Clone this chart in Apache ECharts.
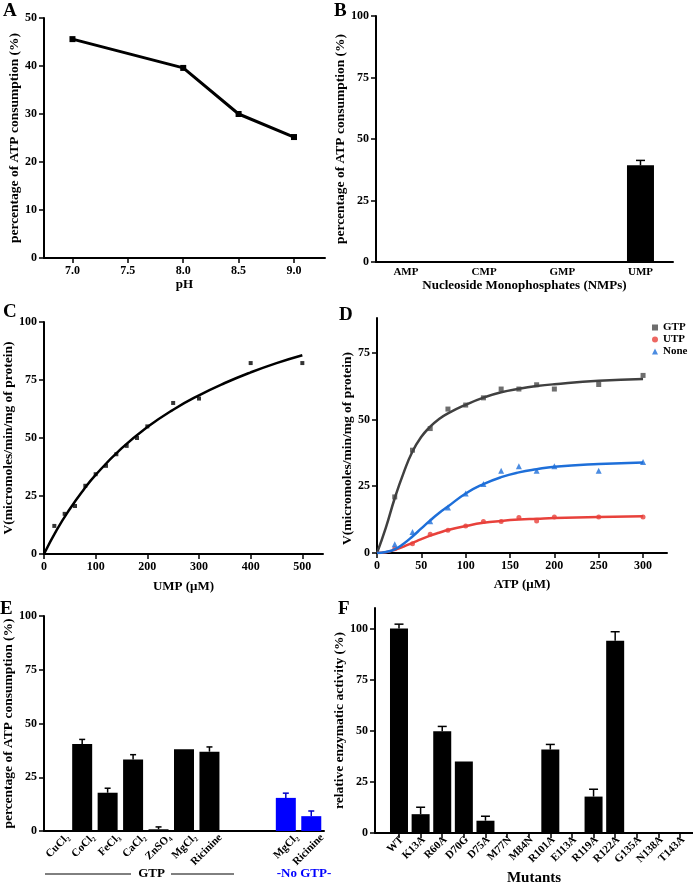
<!DOCTYPE html>
<html>
<head>
<meta charset="utf-8">
<script src="https://cdn.jsdelivr.net/npm/echarts@6/dist/echarts.min.js"></script>
<style>
  html, body { margin: 0; padding: 0; background: #fff; }
  #chart { width: 693px; height: 885px; }
</style>
</head>
<body>
<div id="chart"></div>
<script>
// A: pH
var phX = [7.0, 8.0, 8.5, 9.0];
var phY = [45.6, 39.6, 30.0, 25.2];
var phTicks = [7.0, 7.5, 8.0, 8.5, 9.0];

// B: NMPs
var nmpNames = ['AMP', 'CMP', 'GMP', 'UMP'];
var nmpVal = [0, 0, 0, 39.3];
var nmpErr = [0, 0, 0, 2.0];

// C: UMP kinetics
var umpX = [20, 40, 60, 80, 100, 120, 140, 160, 180, 200, 250, 300, 400, 500];
var umpV = [12.1, 17.3, 20.7, 29.4, 34.4, 38.0, 43.0, 46.6, 50.0, 55.0, 65.1, 67.0, 82.3, 82.3];
var umpFitX = [0, 25, 50, 75, 100, 150, 200, 250, 300, 350, 400, 450, 500];
var umpFitV = [0, 10.5, 19.4, 27.2, 34.1, 45.5, 54.7, 62.2, 68.4, 73.7, 78.3, 82.3, 85.7];
var umpTicks = [0, 100, 200, 300, 400, 500];

// D: ATP kinetics
var atpX = [20, 40, 60, 80, 100, 120, 140, 160, 180, 200, 250, 300];
var gtpV = [21.0, 38.5, 46.6, 53.9, 55.4, 58.1, 61.4, 61.4, 63.0, 61.4, 63.1, 66.5];
var utpV = [1.6, 3.5, 7.0, 8.5, 10.1, 11.8, 11.8, 13.3, 12.0, 13.5, 13.5, 13.5];
var noneV = [3.3, 7.9, 11.9, 17.0, 22.3, 25.8, 30.8, 32.5, 30.8, 32.5, 30.8, 34.1];
var atpFitX = [0, 10, 20, 30, 40, 50, 60, 70, 80, 100, 120, 140, 160, 180, 200, 250, 300];
var gtpFit = [0, 9.5, 20.5, 30.0, 38.0, 43.5, 47.3, 50.2, 52.3, 55.5, 58.2, 60.2, 61.5, 62.5, 63.2, 64.5, 65.2];
var utpFit = [0, 0.3, 1.2, 2.4, 3.8, 5.2, 6.5, 7.6, 8.6, 10.1, 11.3, 12.0, 12.5, 12.8, 13.1, 13.5, 13.75];
var noneFit = [0, 0.4, 1.4, 3.5, 6.2, 9.2, 12.2, 15.0, 17.4, 22.3, 25.8, 28.4, 30.2, 31.4, 32.3, 33.3, 33.9];
var atpTicks = [0, 50, 100, 150, 200, 250, 300];
var vTicks = [0, 25, 50, 75];

// E: metal ions
var metalNames = ['CuCl₂', 'CoCl₂', 'FeCl₃', 'CaCl₂', 'ZnSO₄', 'MgCl₂', 'Ricinine', '', '', 'MgCl₂', 'Ricinine'];
var metalVal = [0, 40.5, 17.8, 33.3, 0.8, 38.0, 36.9, '-', '-', 15.4, 6.9];
var metalErr = [0, 2.1, 2.1, 2.2, 1.1, 0, 2.2, 0, 0, 2.2, 2.4];

// F: mutants
var mutNames = ['WT', 'K13A', 'R60A', 'D70G', 'D75A', 'M77N', 'M84N', 'R101A', 'E113A', 'R119A', 'R122A', 'G135A', 'N138A', 'T143A'];
var mutVal = [100, 9.2, 49.7, 35.0, 6.0, 0, 0, 40.8, 0, 17.8, 94.0, 0, 0, 0];
var mutErr = [2.1, 3.4, 2.4, 0, 2.2, 0, 0, 2.5, 0, 3.6, 4.4, 0, 0, 0];
var pctTicks = [0, 25, 50, 75, 100];

var FONT = "'Liberation Serif', 'Times New Roman', serif";

function pairs(xs, ys) {
    return xs.map(function (x, i) { return [x, ys[i]]; });
}
function idxPairs(ys) {
    return ys.map(function (y, i) { return [i, y]; });
}
function indices(arr) {
    return arr.map(function (n, i) { return i; });
}
function errData(vals, errs) {
    var out = [];
    vals.forEach(function (v, i) {
        if (errs[i] > 0) out.push([i, v, errs[i]]);
    });
    return out;
}

function axis(idx, opt) {
    var a = {
        gridIndex: idx,
        axisLine: { onZero: false, lineStyle: { color: '#000', width: 2 } },
        axisTick: { length: 5, lineStyle: { color: '#000', width: 1.5 } },
        axisLabel: { color: '#000', fontFamily: FONT, fontWeight: 'bold', fontSize: 12, margin: 7 },
        nameLocation: 'middle',
        nameTextStyle: { color: '#000', fontFamily: FONT, fontWeight: 'bold', fontSize: 13 },
        splitLine: { show: false }
    };
    for (var k in opt) {
        if (typeof opt[k] === 'object' && !Array.isArray(opt[k]) && a[k]) {
            for (var j in opt[k]) a[k][j] = opt[k][j];
        } else {
            a[k] = opt[k];
        }
    }
    return a;
}

// label-only axis, slightly shifted to the right like the original layout
function labelAxis(idx, min, max, names) {
    return axis(idx, {
        type: 'value', position: 'bottom', min: min, max: max,
        axisLine: { show: false },
        axisTick: { show: false },
        axisLabel: { customValues: indices(names), rotate: 45, fontSize: 11, margin: 5,
            formatter: function (v) { return names[Math.round(v)]; } }
    });
}

function errorBars(xi, yi, color, capW, data) {
    return {
        type: 'custom',
        xAxisIndex: xi,
        yAxisIndex: yi,
        data: data,
        z: 3,
        encode: { x: 0, y: 1 },
        renderItem: function (params, api) {
            var x = api.value(0), v = api.value(1), e = api.value(2);
            var p0 = api.coord([x, v]);
            var p1 = api.coord([x, v + e]);
            var st = { stroke: color, lineWidth: 1.5 };
            return {
                type: 'group',
                children: [
                    { type: 'line', shape: { x1: p0[0], y1: p0[1], x2: p1[0], y2: p1[1] }, style: st },
                    { type: 'line', shape: { x1: p1[0] - capW / 2, y1: p1[1], x2: p1[0] + capW / 2, y2: p1[1] }, style: st }
                ]
            };
        }
    };
}

var yName = 'percentage of ATP consumption (%)';
var vName = 'V(micromoles/min/mg of protein)';

var chart = echarts.init(document.getElementById('chart'), null, { renderer: 'canvas' });

var option = {
    backgroundColor: '#fff',
    animation: false,
    grid: [
        { left: 44, top: 18, width: 281, height: 240, outerBoundsMode: 'none' },
        { left: 376, top: 16, width: 297, height: 246, outerBoundsMode: 'none' },
        { left: 44, top: 322, width: 279, height: 232, outerBoundsMode: 'none' },
        { left: 377, top: 318, width: 290, height: 235, outerBoundsMode: 'none' },
        { left: 44, top: 616, width: 280, height: 215, outerBoundsMode: 'none' },
        { left: 375, top: 608, width: 318, height: 225, outerBoundsMode: 'none' }
    ],
    xAxis: [
        axis(0, {
            type: 'value', min: 6.743, max: 9.28, name: 'pH', nameGap: 18,
            axisTick: { customValues: phTicks },
            axisLabel: { customValues: phTicks, formatter: function (v) { return v.toFixed(1); } }
        }),
        axis(1, {
            type: 'value', min: -0.383, max: 3.416,
            name: 'Nucleoside Monophosphates (NMPs)', nameGap: 16,
            axisTick: { show: false },
            axisLabel: { customValues: [0, 1, 2, 3], fontSize: 11, margin: 5,
                formatter: function (v) { return nmpNames[Math.round(v)]; } }
        }),
        axis(2, {
            type: 'value', min: 0, max: 540, name: 'UMP (μM)', nameGap: 26,
            axisTick: { customValues: umpTicks },
            axisLabel: { customValues: umpTicks }
        }),
        axis(3, {
            type: 'value', min: 0, max: 327, name: 'ATP (μM)', nameGap: 25,
            axisTick: { customValues: atpTicks },
            axisLabel: { customValues: atpTicks }
        }),
        axis(4, {
            type: 'category', data: metalNames, position: 'bottom',
            axisTick: { alignWithLabel: true, interval: 0 },
            axisLabel: { show: false }
        }),
        axis(5, {
            type: 'value', min: -1.11, max: 13.6, name: 'Mutants', nameGap: 38, position: 'bottom',
            nameTextStyle: { fontSize: 15 },
            axisTick: { customValues: indices(mutNames) },
            axisLabel: { show: false }
        }),
        labelAxis(4, -0.5 - 11 / 25.45, 10.5 - 11 / 25.45, metalNames),
        labelAxis(5, -1.11 - 3 / 21.6, 13.6 - 3 / 21.6, mutNames)
    ],
    yAxis: [
        axis(0, { type: 'value', min: 0, max: 50, interval: 10, name: yName, nameGap: 20,
            nameTextStyle: { fontSize: 13.5 } }),
        axis(1, { type: 'value', min: 0, max: 100, interval: 25, name: yName, nameGap: 21,
            nameTextStyle: { fontSize: 13.5 } }),
        axis(2, { type: 'value', min: 0, max: 100, interval: 25, name: vName, nameGap: 24,
            nameTextStyle: { fontSize: 13.5 } }),
        axis(3, { type: 'value', min: 0, max: 88, name: vName, nameGap: 17,
            nameTextStyle: { fontSize: 13.5, padding: [0, 26, 0, 0] },
            axisTick: { customValues: vTicks },
            axisLabel: { customValues: vTicks } }),
        axis(4, { type: 'value', min: 0, max: 100, interval: 25, name: yName, nameGap: 22,
            nameTextStyle: { fontSize: 13.5 } }),
        axis(5, { type: 'value', min: 0, max: 110, name: 'relative enzymatic activity (%)', nameGap: 21,
            nameTextStyle: { fontSize: 13.5 },
            axisTick: { customValues: pctTicks },
            axisLabel: { customValues: pctTicks } })
    ],
    legend: {
        data: ['GTP', 'UTP', 'None'],
        orient: 'vertical',
        left: 647,
        top: 317,
        itemWidth: 6,
        itemHeight: 6,
        itemGap: 1,
        textStyle: { color: '#000', fontFamily: FONT, fontWeight: 'bold', fontSize: 11 }
    },
    graphic: [
        { type: 'text', left: 3, top: 2, style: { text: 'A', font: 'bold 19px ' + FONT, fill: '#000' } },
        { type: 'text', left: 334, top: 2, style: { text: 'B', font: 'bold 19px ' + FONT, fill: '#000' } },
        { type: 'text', left: 3, top: 303, style: { text: 'C', font: 'bold 19px ' + FONT, fill: '#000' } },
        { type: 'text', left: 339, top: 306, style: { text: 'D', font: 'bold 19px ' + FONT, fill: '#000' } },
        { type: 'text', left: 0, top: 600, style: { text: 'E', font: 'bold 19px ' + FONT, fill: '#000' } },
        { type: 'text', left: 338, top: 600, style: { text: 'F', font: 'bold 19px ' + FONT, fill: '#000' } },
        { type: 'line', shape: { x1: 45, y1: 874, x2: 131, y2: 874 }, style: { stroke: '#000', lineWidth: 1 } },
        { type: 'line', shape: { x1: 171, y1: 874, x2: 234, y2: 874 }, style: { stroke: '#000', lineWidth: 1 } },
        { type: 'text', x: 151.5, y: 874, style: { text: 'GTP', font: 'bold 13px ' + FONT, fill: '#000', align: 'center', verticalAlign: 'middle' } },
        { type: 'text', x: 304, y: 874, style: { text: '-No GTP-', font: 'bold 13px ' + FONT, fill: '#0000ff', align: 'center', verticalAlign: 'middle' } }
    ],
    series: [
        // A
        {
            type: 'line', xAxisIndex: 0, yAxisIndex: 0, data: pairs(phX, phY),
            symbol: 'rect', symbolSize: 6, itemStyle: { color: '#000' },
            lineStyle: { color: '#000', width: 3 }
        },
        // B
        {
            type: 'bar', xAxisIndex: 1, yAxisIndex: 1, data: idxPairs(nmpVal),
            barWidth: 27, itemStyle: { color: '#000' }
        },
        errorBars(1, 1, '#000', 9, errData(nmpVal, nmpErr)),
        // C
        {
            type: 'line', xAxisIndex: 2, yAxisIndex: 2, data: pairs(umpFitX, umpFitV),
            smooth: true, showSymbol: false, lineStyle: { color: '#000', width: 2.5 }
        },
        {
            type: 'scatter', xAxisIndex: 2, yAxisIndex: 2, data: pairs(umpX, umpV),
            symbol: 'rect', symbolSize: 4, itemStyle: { color: '#000' }
        },
        // D
        {
            name: 'GTP fit', type: 'line', xAxisIndex: 3, yAxisIndex: 3, data: pairs(atpFitX, gtpFit),
            smooth: true, showSymbol: false, lineStyle: { color: '#404040', width: 2.5 }
        },
        {
            name: 'UTP fit', type: 'line', xAxisIndex: 3, yAxisIndex: 3, data: pairs(atpFitX, utpFit),
            smooth: true, showSymbol: false, lineStyle: { color: '#e8413b', width: 2.5 }
        },
        {
            name: 'None fit', type: 'line', xAxisIndex: 3, yAxisIndex: 3, data: pairs(atpFitX, noneFit),
            smooth: true, showSymbol: false, lineStyle: { color: '#1e6fd9', width: 2.5 }
        },
        {
            name: 'GTP', type: 'scatter', xAxisIndex: 3, yAxisIndex: 3, data: pairs(atpX, gtpV),
            symbol: 'rect', symbolSize: 5, itemStyle: { color: '#4a4a4a' }
        },
        {
            name: 'UTP', type: 'scatter', xAxisIndex: 3, yAxisIndex: 3, data: pairs(atpX, utpV),
            symbol: 'circle', symbolSize: 5, itemStyle: { color: '#e8413b' }
        },
        {
            name: 'None', type: 'scatter', xAxisIndex: 3, yAxisIndex: 3, data: pairs(atpX, noneV),
            symbol: 'triangle', symbolSize: 6, itemStyle: { color: '#1e6fd9' }
        },
        // E
        {
            type: 'bar', xAxisIndex: 4, yAxisIndex: 4, data: metalVal, barWidth: 20,
            itemStyle: { color: function (p) { return p.dataIndex >= 9 ? '#0000ff' : '#000'; } }
        },
        errorBars(4, 4, '#000', 6, errData(metalVal, metalErr).filter(function (d) { return d[0] < 9; })),
        errorBars(4, 4, '#0000c8', 6, errData(metalVal, metalErr).filter(function (d) { return d[0] >= 9; })),
        // F
        {
            type: 'bar', xAxisIndex: 5, yAxisIndex: 5, data: idxPairs(mutVal),
            barWidth: 18, itemStyle: { color: '#000' }
        },
        errorBars(5, 5, '#000', 9, errData(mutVal, mutErr))
    ]
};

chart.setOption(option);
window.addEventListener('resize', function () { chart.resize(); });
</script>
</body>
</html>
